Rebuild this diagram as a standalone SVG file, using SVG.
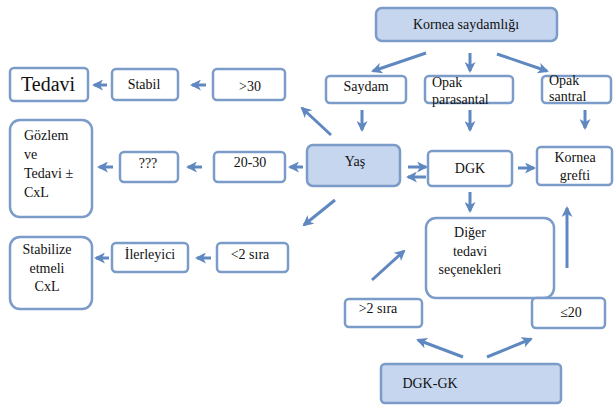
<svg xmlns="http://www.w3.org/2000/svg" width="616" height="405" viewBox="0 0 616 405">
<defs>
<style>
.box{fill:#ffffff;stroke:#7b9bc8;stroke-width:2.5}
.fill{fill:#c6d6ee;stroke:#7b9bc8;stroke-width:2.5}
.t{font-family:"Liberation Serif","Times New Roman",serif;font-size:14px;fill:#111}
.c{text-anchor:middle}
.a{stroke:#5f88c0;stroke-width:3;fill:none;marker-end:url(#ah)}
</style>
<marker id="ah" markerUnits="userSpaceOnUse" markerWidth="11" markerHeight="11" refX="9" refY="5.5" orient="auto">
<path d="M0,0 L11,5.5 L0,11 L3,5.5 z" fill="#5f88c0"/>
</marker>
</defs>
<rect width="616" height="405" fill="#ffffff"/>
<g id="n-kornea-saydamligi"><rect class="fill" x="376" y="8" width="181" height="33" rx="6"/><text class="t c" x="466" y="29">Kornea saydamlığı</text></g>
<g id="n-saydam"><rect class="box" x="326" y="76" width="80" height="27" rx="4"/><text class="t c" x="366" y="91">Saydam</text></g>
<g id="n-opak-parasantal"><rect class="box" x="425" y="76" width="88" height="27" rx="4"/><text class="t" x="432" y="87">Opak</text><text class="t" x="432" y="104">parasantal</text></g>
<g id="n-opak-santral"><rect class="box" x="542" y="76" width="69" height="27" rx="4"/><text class="t" x="549" y="85">Opak</text><text class="t" x="549" y="101">santral</text></g>
<g id="n-yas"><rect class="fill" x="307" y="145" width="93" height="41" rx="6"/><text class="t c" x="355" y="166">Yaş</text></g>
<g id="n-dgk"><rect class="box" x="428" y="151" width="84" height="35" rx="4"/><text class="t c" x="470" y="173">DGK</text></g>
<g id="n-kornea-grefti"><rect class="box" x="537" y="147" width="75" height="38" rx="4"/><text class="t c" x="575" y="162">Kornea</text><text class="t c" x="575" y="180">grefti</text></g>
<g id="n-diger"><rect class="box" x="426" y="218" width="128" height="80" rx="10"/><text class="t c" x="470" y="237">Diğer</text><text class="t c" x="470" y="256">tedavi</text><text class="t c" x="470" y="274">seçenekleri</text></g>
<g id="n-gt2sira"><rect class="box" x="345" y="299" width="77" height="28" rx="4"/><text class="t c" x="378" y="313">&gt;2 sıra</text></g>
<g id="n-le20"><rect class="box" x="532" y="298" width="73" height="30" rx="4"/><text class="t c" x="571" y="317">≤20</text></g>
<g id="n-dgk-gk"><rect class="fill" x="381" y="364" width="180" height="39" rx="4"/><text class="t c" x="430" y="388">DGK-GK</text></g>
<g id="n-tedavi"><rect class="box" x="10" y="68" width="78" height="33" rx="4"/><text class="t" x="21" y="91" style="font-size:20px">Tedavi</text></g>
<g id="n-stabil"><rect class="box" x="112" y="69" width="66" height="31" rx="4"/><text class="t c" x="144" y="89">Stabil</text></g>
<g id="n-gt30"><rect class="box" x="213" y="69" width="72" height="31" rx="4"/><text class="t c" x="250" y="91">&gt;30</text></g>
<g id="n-gozlem"><rect class="box" x="10" y="120" width="82" height="97" rx="10"/><text class="t" x="24" y="140">Gözlem</text><text class="t" x="24" y="159">ve</text><text class="t" x="24" y="178">Tedavi ±</text><text class="t" x="24" y="197">CxL</text></g>
<g id="n-qqq"><rect class="box" x="120" y="152" width="58" height="30" rx="4"/><text class="t c" x="148" y="168">???</text></g>
<g id="n-20-30"><rect class="box" x="214" y="152" width="71" height="30" rx="4"/><text class="t c" x="250" y="167">20-30</text></g>
<g id="n-stabilize"><rect class="box" x="10" y="237" width="82" height="72" rx="10"/><text class="t c" x="47" y="254">Stabilize</text><text class="t c" x="47" y="273">etmeli</text><text class="t c" x="47" y="291">CxL</text></g>
<g id="n-ilerleyici"><rect class="box" x="112" y="243" width="76" height="29" rx="4"/><text class="t c" x="150" y="259">İlerleyici</text></g>
<g id="n-lt2sira"><rect class="box" x="217" y="243" width="71" height="29" rx="4"/><text class="t c" x="250" y="259">&lt;2 sıra</text></g>
<g id="connectors">
<line class="a" x1="426" y1="53" x2="373" y2="71"/>
<line class="a" x1="470" y1="53" x2="470" y2="71"/>
<line class="a" x1="497" y1="54" x2="547" y2="71"/>
<line class="a" x1="362" y1="110" x2="362" y2="130"/>
<line class="a" x1="470" y1="110" x2="470" y2="130"/>
<line class="a" x1="585" y1="110" x2="585" y2="128"/>
<line class="a" x1="331" y1="135" x2="302" y2="108"/>
<line class="a" x1="303" y1="167" x2="290" y2="167"/>
<line class="a" x1="202" y1="167" x2="188" y2="167"/>
<line class="a" x1="113" y1="167" x2="99" y2="167"/>
<line class="a" x1="206" y1="85" x2="192" y2="85"/>
<line class="a" x1="107" y1="85" x2="94" y2="85"/>
<line class="a" x1="335" y1="200" x2="304" y2="225"/>
<line class="a" x1="211" y1="258" x2="197" y2="258"/>
<line class="a" x1="109" y1="258" x2="96" y2="258"/>
<line class="a" x1="408" y1="167" x2="426" y2="167"/>
<line class="a" x1="426" y1="177" x2="408" y2="177"/>
<line class="a" x1="518" y1="168" x2="534" y2="168"/>
<line class="a" x1="470" y1="192" x2="470" y2="211"/>
<line class="a" x1="372" y1="280" x2="404" y2="251"/>
<line class="a" x1="567" y1="268" x2="567" y2="208"/>
<line class="a" x1="463" y1="357" x2="418" y2="340"/>
<line class="a" x1="487" y1="357" x2="531" y2="339"/>
</g>
</svg>
